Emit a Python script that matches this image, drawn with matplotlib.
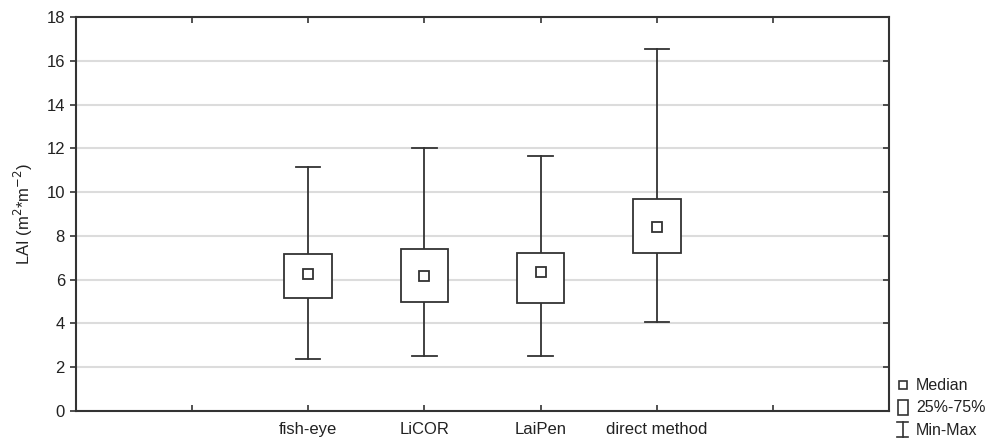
import matplotlib
matplotlib.use("Agg")
import matplotlib.pyplot as plt
from matplotlib.lines import Line2D
from matplotlib.patches import Rectangle
import numpy as np

categories = ["fish-eye", "LiCOR", "LaiPen", "direct method"]
medians = [6.26, 6.18, 6.33, 8.40]
q25 = [5.15, 4.98, 4.92, 7.21]
q75 = [7.15, 7.38, 7.20, 9.67]
mins = [2.36, 2.51, 2.51, 4.05]
maxs = [11.16, 12.00, 11.67, 16.53]
legend_labels = ['Median', '25%-75%', 'Min-Max']

plt.rcParams['font.family'] = ['Liberation Sans', 'DejaVu Sans']

W, H = 997, 444
fig = plt.figure(figsize=(W/100, H/100), dpi=100)
ax = fig.add_axes([76/W, 1 - 411/H, (889-76)/W, (411-17)/H])

lc = '#333333'
pos = np.arange(len(categories))
bw = 0.41
cw = 0.21
for x, md, lo, hi, mn, mx in zip(pos, medians, q25, q75, mins, maxs):
    ax.plot([x, x], [hi, mx], color=lc, lw=1.3, zorder=3)
    ax.plot([x, x], [mn, lo], color=lc, lw=1.3, zorder=3)
    ax.plot([x - cw/2, x + cw/2], [mx, mx], color=lc, lw=1.3, zorder=3)
    ax.plot([x - cw/2, x + cw/2], [mn, mn], color=lc, lw=1.3, zorder=3)
    ax.add_patch(Rectangle((x - bw/2, lo), bw, hi - lo, facecolor='white',
                           edgecolor=lc, lw=1.3, zorder=3))
    ax.plot([x], [md], marker='s', ms=7, mfc='white', mec=lc, mew=1.3,
            ls='none', zorder=4)

ax.set_xlim(-2, 5)
ax.set_ylim(0, 18)
ax.set_yticks(np.arange(0, 19, 2))
ax.set_xticks(np.arange(-1, 5))
ax.set_xticklabels([''] + categories + [''])
ax.yaxis.grid(True, color='#dcdcdc', lw=1.5)
ax.set_axisbelow(True)
for s in ax.spines.values():
    s.set_color(lc)
    s.set_linewidth(1.5)
ax.tick_params(axis='x', direction='in', length=4, width=1.2, color=lc,
               top=True, pad=8, labelsize=12, labelcolor='#222222')
ax.tick_params(axis='y', which='both', left=True, right=True, length=4,
               width=1.2, color=lc, labelsize=12, labelcolor='#222222')
ax.tick_params(axis='y', direction='out', pad=4)
for t in ax.yaxis.get_major_ticks():
    t.tick2line.set_marker(matplotlib.lines.TICKLEFT)
ax.set_ylabel('LAI (m$^{2}$*m$^{-2}$)', fontsize=12, labelpad=8, color='#222222')

# legend drawn in figure pixel coordinates
def fx(px):
    return px / W

def fy(py):
    return 1 - py / H

tf = fig.transFigure
fig.add_artist(Line2D([fx(902.5)], [fy(385)], marker='s', ms=5.5, mfc='white',
                      mec=lc, mew=1.2, ls='none', transform=tf))
fig.add_artist(Rectangle((fx(897.5), fy(415)), 10/W, 15/H, facecolor='white',
                         edgecolor=lc, lw=1.2, transform=tf))
fig.add_artist(Line2D([fx(902.5), fx(902.5)], [fy(422), fy(437)], color=lc,
                      lw=1.2, transform=tf))
fig.add_artist(Line2D([fx(897), fx(908)], [fy(422), fy(422)], color=lc,
                      lw=1.2, transform=tf))
fig.add_artist(Line2D([fx(897), fx(908)], [fy(437), fy(437)], color=lc,
                      lw=1.2, transform=tf))
for lab, py in zip(legend_labels, [385, 407.5, 430]):
    fig.text(fx(916), fy(py), lab, fontsize=11.5, va='center', ha='left',
             color='#222222')

fig.savefig('out.png', dpi=100)
